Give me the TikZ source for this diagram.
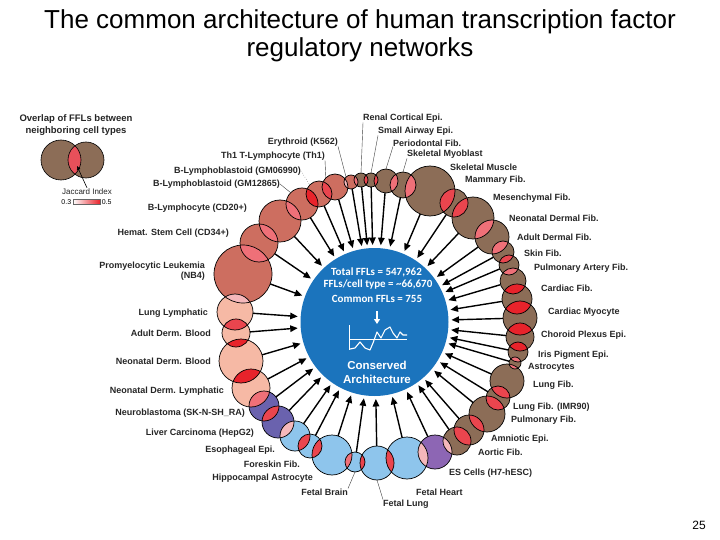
\documentclass[tikz,border=0pt]{standalone}
\usepackage{fontspec}
\setmainfont{Liberation Sans}
\newfontfamily\calib{Carlito}
\usetikzlibrary{arrows.meta}
\definecolor{brn}{HTML}{8C6D57}
\definecolor{sal}{HTML}{CD6E60}
\definecolor{lsal}{HTML}{F6B9A5}
\definecolor{purp}{HTML}{6A62AE}
\definecolor{viol}{HTML}{8D66B4}
\definecolor{lblu}{HTML}{8EC5EC}
\definecolor{coreblue}{HTML}{1B74BD}
\definecolor{lA}{HTML}{E8232B}
\definecolor{lB}{HTML}{EA454E}
\definecolor{lC}{HTML}{EF7078}
\definecolor{lD}{HTML}{F5B8BB}
\definecolor{lgd}{HTML}{E8505A}
\begin{document}
\begin{tikzpicture}[x=1pt,y=-1pt,
  cell/.style={circle,inner sep=0pt,outer sep=0pt},
  ring/.style={draw=black,line width=0.7pt},
  arr/.style={-{Triangle[length=7.5pt,width=6.5pt]},line width=1.4pt,shorten >=3pt},
  lblL/.style={anchor=east,font=\fontsize{9}{10}\selectfont\bfseries,text=black!85,inner sep=0pt},
  lblR/.style={anchor=west,font=\fontsize{9}{10}\selectfont\bfseries,text=black!85,inner sep=0pt},
  leader/.style={draw=black!75,line width=0.4pt},
  ctext/.style={text=white,font=\calib\bfseries\fontsize{11}{13}\selectfont,inner sep=0pt},
  cbold/.style={text=white,font=\fontsize{11.5}{13}\selectfont\bfseries,inner sep=0pt}
]
\useasboundingbox (0,0) rectangle (720,540);
\fill[white] (0,0) rectangle (720,540);

% title
\node[font=\fontsize{26}{28}\selectfont] (title1) at (360,22) {The common architecture of human transcription factor};
\node[font=\fontsize{26}{28}\selectfont] (title2) at (360,50) {regulatory networks};

% core
\node[cell,fill=coreblue,minimum size=148pt] (core) at (374.5,322) {};

% ring circles
\foreach \n/\x/\y/\r/\cc in {
renal/361/180/7/brn, airway/371/180/7/brn, perio/386/181/12/brn, myob/403/185/13/brn,
muscle/430/191/25/brn, mammary/454/203/14/brn, mesench/473/218/21/brn, neoderm/492/237/17/brn,
aduderm/503/252/11/brn, skin/509/265/10/brn, pulmart/513/281/13/brn, cardfib/517/299/15/brn,
cardmyo/520/318/17/brn, choroid/520/337/14/brn, iris/518/352/10/brn, astro/515/363/6/brn,
lungfib/507/381/17/brn, imr/498/398/12/brn, pulmfib/487/414/18/brn, amnio/469/430/15/brn,
aortic/457/441/14/brn, es/435/452/17/viol, fheart/407/458/21/lblu, flung/377/463/17/lblu,
fbrain/355/462/10/lblu, hippo/332/455/20/lblu, foreskin/310/446/12/lblu, esoph/295/436/15/lblu,
liver/278/422/16/purp, neuro/264/406/15/purp, neolymph/251/388/19/lsal, neoblood/241/361/22/lsal,
adblood/236/333/14/lsal, lunglymph/235/312/18/lsal, promyel/243/274/29/sal, hemat/259/243/19/sal,
blympho/280/221/21/sal, gmb/302/204/16/sal, gma/319/194/13/sal, thone/335/187/13/sal, eryth/351/182/7/sal}
{
  \node[cell,fill=\cc,minimum size={2*\r pt}] (\n) at (\x,\y) {};
  \expandafter\xdef\csname R\n\endcsname{\r}
}

% overlaps
\foreach \na/\nb/\lc in {
eryth/renal/lC, renal/airway/lB, airway/perio/lB, perio/myob/lC, myob/muscle/lC,
muscle/mammary/lB, mammary/mesench/lB, mesench/neoderm/lC, neoderm/aduderm/lC, aduderm/skin/lB,
skin/pulmart/lC, pulmart/cardfib/lA, cardfib/cardmyo/lA, cardmyo/choroid/lA, choroid/iris/lA,
iris/astro/lC, astro/lungfib/lC, lungfib/imr/lB, imr/pulmfib/lB, pulmfib/amnio/lB,
amnio/aortic/lB, aortic/es/lD, es/fheart/lD, fheart/flung/lB, flung/fbrain/lB,
fbrain/hippo/lC, hippo/foreskin/lB, foreskin/esoph/lB, esoph/liver/lD, liver/neuro/lB,
neuro/neolymph/lC, neolymph/neoblood/lA, neoblood/adblood/lA, adblood/lunglymph/lB, lunglymph/promyel/lD,
promyel/hemat/lC, hemat/blympho/lC, blympho/gmb/lC, gmb/gma/lA, gma/thone/lB, thone/eryth/lD}
{
  \edef\radA{\csname R\na\endcsname}\edef\radB{\csname R\nb\endcsname}
  \begin{scope}
    \clip (\na) circle[radius=\radA pt];
    \fill[\lc] (\nb) circle[radius=\radB pt];
  \end{scope}
}

% outlines and arrows
\foreach \n in {renal,airway,perio,myob,muscle,mammary,mesench,neoderm,aduderm,skin,pulmart,cardfib,
cardmyo,choroid,iris,astro,lungfib,imr,pulmfib,amnio,aortic,es,fheart,flung,fbrain,hippo,foreskin,esoph,
liver,neuro,neolymph,neoblood,adblood,lunglymph,promyel,hemat,blympho,gmb,gma,thone,eryth}
{
  \edef\radA{\csname R\n\endcsname}
  \draw[ring] (\n) circle[radius=\radA pt];
  \draw[arr] (\n) -- (core);
}

% core content
\node[ctext] (t1) at (376.5,272) {Total FFLs = 547,962};
\node[ctext] (t2) at (378,285) {FFLs/cell type = \textasciitilde66,670};
\node[ctext] (t3) at (377,299) {Common FFLs = 755};
\draw[white,line width=1.8pt,-{Triangle[length=5pt,width=6pt]}] (377,311) -- (377,324);
\draw[white,line width=0.6pt] (349,325) -- (349,350);
\draw[white,line width=0.6pt] (349,339) -- (407,339);
\draw[white,line width=1.1pt,line join=round] (350,349) -- (355,348) -- (360,342) -- (365,348) -- (370,350) -- (373,343) -- (377,332) -- (381,338) -- (385,330) -- (390,327) -- (393,333) -- (397,338) -- (400,332) -- (403,335) -- (407,335);
\node[cbold] (t4) at (377,365) {Conserved};
\node[cbold] (t5) at (377,379) {Architecture};

% legend
\node[font=\fontsize{9.5}{12}\selectfont\bfseries,align=center,text=black!85] (legt) at (76,125) {Overlap of FFLs between\\neighboring cell types};
\node[cell,fill=brn,minimum size=40pt] (vl) at (61,160) {};
\node[cell,fill=brn,minimum size=36pt] (vr) at (86,160) {};
\begin{scope}
  \clip (vl) circle[radius=20pt];
  \fill[lgd] (vr) circle[radius=18pt];
\end{scope}
\draw[ring,line width=0.6pt] (vl) circle[radius=20pt];
\draw[ring,line width=0.6pt] (vr) circle[radius=18pt];
\node[font=\fontsize{8}{9}\selectfont,inner sep=1pt,text=black!85] (jac) at (87,192) {Jaccard Index};
\coordinate (lenspt) at (77,166);
\draw[-{Triangle[length=4pt,width=3.5pt]},line width=0.6pt] (jac.north) -- (lenspt);
\node[draw=black!60,line width=0.3pt,minimum width=27pt,minimum height=5pt,inner sep=0pt,left color=white,right color=lA] (cbar) at (86.5,202) {};
\node[anchor=east,font=\fontsize{7}{8}\selectfont,inner sep=1.5pt] (cmin) at (cbar.west) {0.3};
\node[anchor=west,font=\fontsize{7}{8}\selectfont,inner sep=1.5pt] (cmax) at (cbar.east) {0.5};

% left labels
\foreach \ln/\x/\y/\tx in {
lEryth/338/142/{Erythroid (K562)}, lTh/325/156/{Th1 T-Lymphocyte (Th1)},
lGMa/301/171/{B-Lymphoblastoid (GM06990)}, lGMb/280/184/{B-Lymphoblastoid (GM12865)},
lBly/247/208/{B-Lymphocyte (CD20+)}, lHem/229/233/{Hemat. Stem Cell (CD34+)},
lLL/208/313/{Lung Lymphatic}, lAB/211/333/{Adult Derm. Blood},
lNB/211/361/{Neonatal Derm. Blood}, lNL/224/391/{Neonatal Derm. Lymphatic},
lNeu/245/413/{Neuroblastoma (SK-N-SH\_RA)}, lLiv/254/433/{Liver Carcinoma (HepG2)},
lEso/275/450/{Esophageal Epi.}, lFor/300/464/{Foreskin Fib.},
lHip/313/478/{Hippocampal Astrocyte}, lFB/348/492/{Fetal Brain}}
{ \node[lblL] (\ln) at (\x,\y) {\tx}; }
\node[lblL,align=right] (lPro) at (205,271) {Promyelocytic Leukemia\\(NB4)};

% right labels
\foreach \ln/\x/\y/\tx in {
lFL/383/504/{Fetal Lung}, lFH/416/492/{Fetal Heart}, lES/449/473/{ES Cells (H7-hESC)},
lAo/478/452/{Aortic Fib.}, lAm/491/439/{Amniotic Epi.}, lPF/511/420/{Pulmonary Fib.},
lIMR/513/407/{Lung Fib. (IMR90)}, lLF/533/385/{Lung Fib.}, lAst/528/367/{Astrocytes},
lIris/538/355/{Iris Pigment Epi.}, lCho/541/335/{Choroid Plexus Epi.}, lCM/548/312/{Cardiac Myocyte},
lCF/541/288/{Cardiac Fib.}, lPA/534/268/{Pulmonary Artery Fib.}, lSkin/524/253/{Skin Fib.},
lAD/517/237/{Adult Dermal Fib.}, lND/509/218/{Neonatal Dermal Fib.}, lMes/493/198/{Mesenchymal Fib.},
lMam/465/180/{Mammary Fib.}, lSM/450/167/{Skeletal Muscle}, lMyo/407/154/{Skeletal Myoblast},
lPer/393/143/{Periodontal Fib.}, lSA/378/131/{Small Airway Epi.}, lRen/363/118/{Renal Cortical Epi.}}
{ \node[lblR] (\ln) at (\x,\y) {\tx}; }

% leaders
\draw[leader] (lEryth.south east) -- (eryth.north west);
\draw[leader] (lTh.south east) -- (thone.north west);
\draw[leader,dotted] (lGMa.east) -- (gma.north west);
\draw[leader] (lGMb.east) -- (gmb.north west);
\draw[leader] (lFB.north east) -- (fbrain.south);
\draw[leader] (lFL.north west) -- (flung.south);
\draw[leader] (lMyo.south west) -- (myob.north);
\draw[leader] (lPer.south west) -- (perio.north);
\draw[leader] (lSA.south west) -- (airway.north);
\draw[leader] (lRen.south west) -- (renal.north);

% page number
\node[font=\fontsize{12}{14}\selectfont] (pg) at (699,525) {25};
\end{tikzpicture}
\end{document}
